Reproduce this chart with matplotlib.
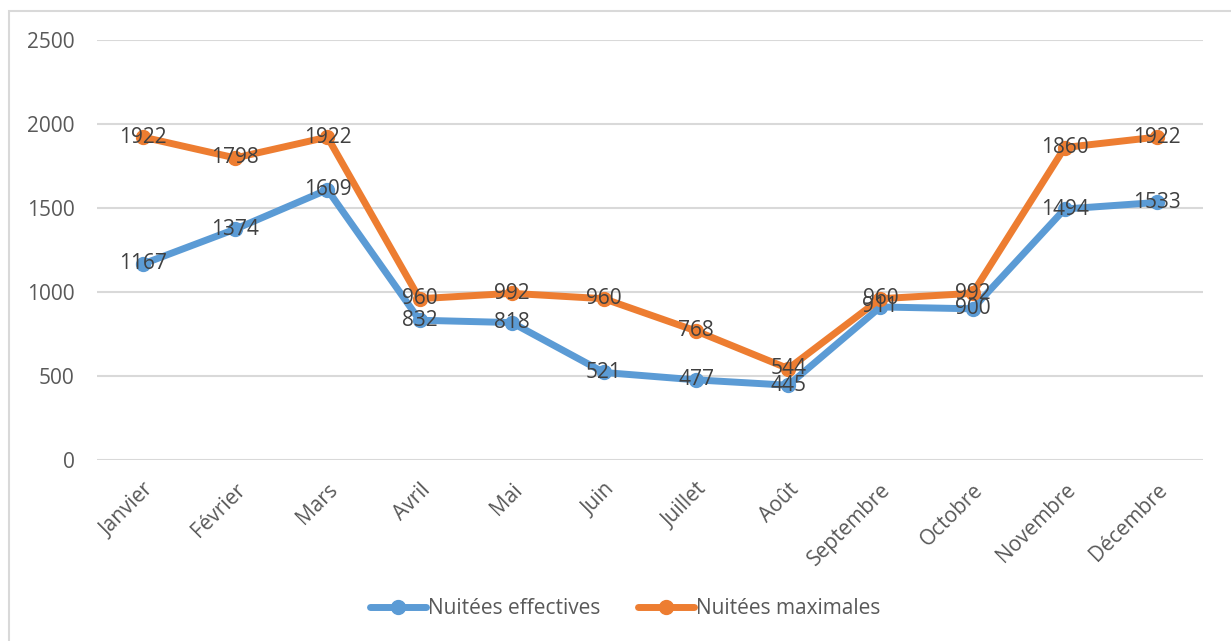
import matplotlib.pyplot as plt
from matplotlib.patches import Rectangle

plt.rcParams['font.family'] = ['Open Sans', 'DejaVu Sans']

mois = ['Janvier', 'Février', 'Mars', 'Avril', 'Mai', 'Juin', 'Juillet',
        'Août', 'Septembre', 'Octobre', 'Novembre', 'Décembre']
effectives = [1167, 1374, 1609, 832, 818, 521, 477, 445, 911, 900, 1494, 1533]
maximales = [1922, 1798, 1922, 960, 992, 960, 768, 544, 960, 992, 1860, 1922]

blue = '#5B9BD5'
orange = '#ED7D31'
txt = '#404040'

fig = plt.figure(figsize=(12.31, 6.41), dpi=100)
ax = fig.add_axes([97 / 1231, 1 - 460 / 641, (1203 - 97) / 1231, 420 / 641])

# border of the chart area
fig.patches.append(Rectangle((9 / 1231, -0.1), 1.2, 1 - 11 / 641 + 0.1,
                             transform=fig.transFigure, fill=False,
                             edgecolor='#D9D9D9', linewidth=1.5))

x = list(range(len(mois)))
ax.plot(x, effectives, color=blue, linewidth=5, marker='o', markersize=10,
        solid_capstyle='round', label='Nuitées effectives', zorder=3)
ax.plot(x, maximales, color=orange, linewidth=5, marker='o', markersize=10,
        solid_capstyle='round', label='Nuitées maximales', zorder=3)

# data labels centred on the points
for i, v in enumerate(effectives):
    ax.text(i, v, str(v), ha='center', va='center', fontsize=15, color=txt, zorder=4)
for i, v in enumerate(maximales):
    ax.text(i, v, str(v), ha='center', va='center', fontsize=15, color=txt, zorder=4)

ax.set_xlim(-0.5, 11.5)
ax.set_ylim(0, 2500)
ax.set_yticks([0, 500, 1000, 1500, 2000, 2500])
ax.grid(axis='y', color='#D9D9D9', linewidth=1.5)
ax.set_axisbelow(True)
for s in ax.spines.values():
    s.set_visible(False)
ax.tick_params(axis='both', length=0, labelsize=15, labelcolor='#595959')
ax.tick_params(axis='y', pad=16)
ax.set_xticks(x)
ax.set_xticklabels(mois, rotation=45, ha='right', rotation_mode='anchor')
ax.tick_params(axis='x', pad=14)

ax.legend(loc='center', bbox_to_anchor=(625 / 1231, (641 - 609) / 641), bbox_transform=fig.transFigure,
          ncol=2, frameon=False, fontsize=15, handlelength=2.7, handletextpad=0.1,
          columnspacing=1.8, labelcolor='#595959')

fig.savefig('out.png', dpi=100)
